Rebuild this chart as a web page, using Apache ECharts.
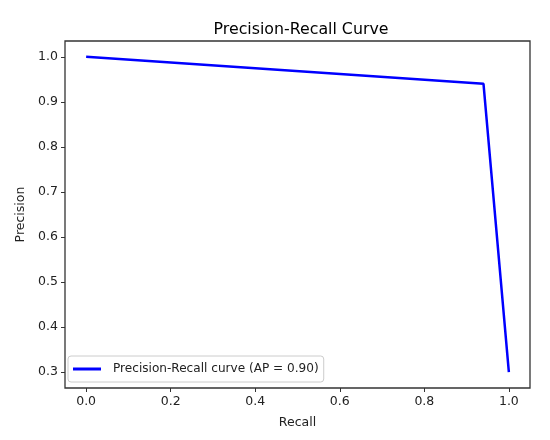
<!DOCTYPE html>
<html>
<head>
<meta charset="utf-8" />
<title>Precision-Recall Curve</title>
<script src="https://cdn.jsdelivr.net/npm/echarts@6.0.0/dist/echarts.min.js"></script>
</head>
<body style="margin:0">
<div id="main" style="width:550px;height:440px;"></div>
<script type="text/javascript">
// data
var recall = [0.0, 0.94, 1.0];
var precision = [1.0, 0.94, 0.30];
var xTicks = [0.0, 0.2, 0.4, 0.6, 0.8, 1.0];
var yTicks = [0.3, 0.4, 0.5, 0.6, 0.7, 0.8, 0.9, 1.0];
var seriesName = 'Precision-Recall curve (AP = 0.90)';

var myChart = echarts.init(document.getElementById('main'));
var font = 'DejaVu Sans';

var points = recall.map(function (r, i) { return [r, precision[i]]; });

var option = {
  animation: false,
  backgroundColor: '#fff',
  title: {
    text: 'Precision-Recall Curve',
    left: 296, top: 17, textAlign: 'center',
    textStyle: { fontFamily: font, fontSize: 15.8, fontWeight: 'normal', color: '#000' }
  },
  grid: { left: 65, right: 20, top: 41, bottom: 52, show: true, borderColor: '#333', borderWidth: 1.3 },
  legend: {
    left: 68, top: 356,
    orient: 'vertical',
    data: [seriesName],
    itemWidth: 28, itemHeight: 3, itemGap: 4,
    icon: 'rect',
    padding: [7, 5, 7, 5],
    borderColor: '#ccc', borderWidth: 1, borderRadius: 3,
    backgroundColor: 'rgba(255,255,255,0.8)',
    textStyle: { fontFamily: font, fontSize: 12.1, color: '#222', padding: [0, 0, 0, 7] }
  },
  xAxis: {
    type: 'value', min: -0.05, max: 1.05,
    name: 'Recall', nameLocation: 'middle', nameGap: 28,
    nameTextStyle: { fontFamily: font, fontSize: 12.5, color: '#222' },
    axisLine: { show: false, onZero: false },
    splitLine: { show: false },
    axisTick: { show: true, length: 4, lineStyle: { color: '#333' }, customValues: xTicks },
    axisLabel: { fontFamily: font, fontSize: 12.5, color: '#222', margin: 7, customValues: xTicks,
      formatter: function (v) { return v.toFixed(1); } }
  },
  yAxis: {
    type: 'value', min: 0.265, max: 1.035,
    name: 'Precision', nameLocation: 'middle', nameGap: 36,
    nameTextStyle: { fontFamily: font, fontSize: 12.5, color: '#222' },
    axisLine: { show: false, onZero: false },
    splitLine: { show: false },
    axisTick: { show: true, length: 4, lineStyle: { color: '#333' }, customValues: yTicks },
    axisLabel: { fontFamily: font, fontSize: 12.5, color: '#222', margin: 7, customValues: yTicks,
      formatter: function (v) { return v.toFixed(1); } }
  },
  series: [{
    name: seriesName,
    type: 'line',
    data: points,
    showSymbol: false,
    lineStyle: { color: '#0000ff', width: 2.5 },
    itemStyle: { color: '#0000ff' }
  }]
};

myChart.setOption(option);
</script>
</body>
</html>
